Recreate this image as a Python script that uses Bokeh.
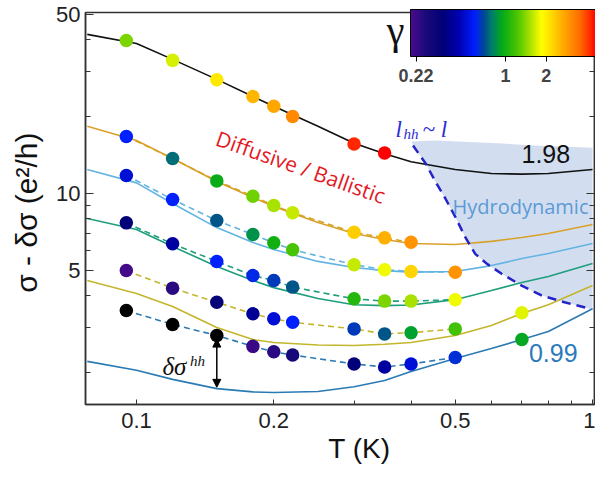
import numpy as np
from bokeh.plotting import figure
from bokeh.models import (LogColorMapper, ColorBar, FixedTicker, Label, Arrow,
                          NormalHead, LogAxis, ColumnDataSource)
from bokeh.embed import file_html
from bokeh.resources import INLINE

# ---------------- data ----------------
T_grid = [0.078, 0.1, 0.12, 0.15, 0.18, 0.2, 0.25, 0.3, 0.35, 0.4, 0.5, 0.6, 0.7, 0.8, 1.0]
black_line = [41.8, 38.5, 33.4, 27.9, 23.9, 21.9, 18.3, 15.7, 14.3, 13.3, 12.4, 11.97, 11.9, 11.97, 12.4]
orange_line = [18.3, 16.1, 13.7, 11.14, 9.65, 8.90, 7.70, 6.98, 6.61, 6.38, 6.32, 6.50, 6.73, 6.98, 7.57]
lblue_line = [12.41, 11.0, 9.14, 7.36, 6.44, 6.04, 5.43, 5.14, 5.00, 4.93, 4.96, 5.23, 5.57, 5.83, 6.38]
green_line = [7.99, 7.23, 6.21, 5.19, 4.57, 4.29, 3.89, 3.68, 3.65, 3.67, 3.85, 4.18, 4.49, 4.74, 5.33]
olive_line = [4.57, 4.07, 3.62, 3.00, 2.69, 2.62, 2.56, 2.55, 2.58, 2.62, 2.79, 3.05, 3.40, 3.68, 4.37]
blue_line = [2.21, 2.04, 1.88, 1.73, 1.68, 1.67, 1.685, 1.76, 1.86, 2.02, 2.27, 2.48, 2.69, 2.89, 3.55]

black_T = [0.095, 0.12, 0.15, 0.18, 0.2, 0.22, 0.3, 0.35]
black_s = [39.6, 33.1, 27.8, 23.9, 21.9, 20.0, 15.6, 14.4]
black_g = [1.38, 1.67, 2.03, 2.54, 2.7, 3.08, 4.26, 4.7]

orange_T = [0.095, 0.12, 0.15, 0.18, 0.2, 0.22, 0.3, 0.35, 0.4]
orange_s = [16.7, 13.7, 11.2, 9.76, 8.98, 8.41, 7.06, 6.71, 6.45]
orange_g = [0.6, 0.77, 0.97, 1.34, 1.52, 1.62, 2.31, 2.62, 2.94]

lblue_T = [0.095, 0.12, 0.15, 0.18, 0.2, 0.22, 0.3, 0.35, 0.4, 0.5]
lblue_s = [11.76, 9.48, 7.84, 6.92, 6.42, 6.03, 5.27, 5.04, 4.96, 4.93]
lblue_g = [0.52, 0.6, 0.72, 0.85, 1.0, 1.21, 1.62, 1.78, 2.25, 2.94]

green_T = [0.095, 0.12, 0.15, 0.18, 0.2, 0.22, 0.3, 0.35, 0.4, 0.5]
green_s = [7.68, 6.36, 5.43, 4.78, 4.57, 4.31, 3.88, 3.80, 3.80, 3.85]
green_g = [0.35, 0.42, 0.6, 0.62, 0.66, 0.72, 1.07, 1.38, 1.52, 1.78]

olive_T = [0.095, 0.12, 0.15, 0.18, 0.2, 0.22, 0.3, 0.35, 0.4, 0.5, 0.7]
olive_s = [5.00, 4.27, 3.76, 3.39, 3.24, 3.14, 2.96, 2.83, 2.86, 2.96, 3.42]
olive_g = [0.21, 0.24, 0.33, 0.4, 0.52, 0.6, 0.66, 0.72, 0.91, 1.18, 1.72]

blue_T = [0.095, 0.12, 0.15, 0.18, 0.2, 0.22, 0.3, 0.35, 0.4, 0.5, 0.7]
blue_s = [3.49, 3.08, 2.79, 2.53, 2.41, 2.34, 2.16, 2.10, 2.16, 2.29, 2.69]
blue_g = [0.15, 0.15, 0.15, 0.22, 0.24, 0.28, 0.35, 0.42, 0.52, 0.64, 0.94]

# number of dots joined by the dashed line for each curve
dash_n = {"orange": 9, "lblue": 10, "green": 10, "olive": 10, "blue": 10}

# l_hh ~ l boundary
bnd_T = [0.404, 0.431, 0.453, 0.476, 0.5005, 0.526, 0.553, 0.587, 0.632, 0.699, 0.773, 0.868, 0.968]
bnd_s = [15.4, 13.06, 11.07, 9.54, 8.08, 6.75, 5.81, 5.31, 4.86, 4.37, 4.00, 3.76, 3.58]
# top edge of hydrodynamic region
top_T = [0.4015, 0.453, 0.634, 0.747, 1.0, 1.0]
top_s = [15.96, 16.1, 15.67, 15.4, 15.1, 3.5]

x_ticks = [0.1, 0.2, 0.5, 1]
x_minor = [0.3, 0.4, 0.6, 0.7, 0.8, 0.9]
x_labels = ["0.1", "0.2", "0.5", "1"]
y_ticks = [5, 10, 50]
y_minor = [2, 3, 4, 6, 7, 8, 9, 20, 30, 40]
y_labels = ["5", "10", "50"]
cb_ticks = [0.22, 1, 2]
cb_labels = ["0.22", "1", "2"]
cb_low, cb_high = 0.2, 4.61

# ---------------- style ----------------
C = {"black": "#111111", "orange": "#d8a22a", "lblue": "#62b4e2",
     "green": "#1f9e7c", "olive": "#c4b62c", "blue": "#2a7bb4"}

stop_g = [0.2, 0.26, 0.35, 0.45, 0.6, 0.7, 0.8, 0.9, 1.0, 1.3, 1.6, 1.85, 2.3, 2.8, 3.5, 4.2, 4.61]
stop_c = ["#4a0a8c", "#1a0a7a", "#000078", "#0000b0", "#0020ff", "#004a90", "#00806a", "#00a030",
          "#10b010", "#60cc00", "#c0e800", "#ffff00", "#ffd000", "#ffa000", "#ff7000", "#ff3000", "#ff0000"]
rgb = np.array([[int(c[i:i + 2], 16) for i in (1, 3, 5)] for c in stop_c], float)
lg = np.log10(stop_g)
palette = ["#%02x%02x%02x" % tuple(int(round(np.interp(t, lg, rgb[:, k]))) for k in range(3))
           for t in np.linspace(np.log10(cb_low), np.log10(cb_high), 256)]
mapper = LogColorMapper(palette=palette, low=cb_low, high=cb_high, low_color="black", high_color="#ff0000")

p = figure(width=595, height=470, x_axis_type="log", y_axis_type="log",
           x_range=(0.0773, 1.01), y_range=(1.5, 50.9),
           output_backend="svg", toolbar_location=None,
           min_border_left=85, min_border_right=1, min_border_top=12, min_border_bottom=66)
p.grid.visible = False
p.outline_line_color = "#333333"
p.outline_line_width = 1.5

xt = FixedTicker(ticks=x_ticks, minor_ticks=x_minor)
yt = FixedTicker(ticks=y_ticks, minor_ticks=y_minor)
p.xaxis.ticker = xt
p.yaxis.ticker = yt
p.xaxis.major_label_overrides = dict(zip(x_ticks, x_labels))
p.yaxis.major_label_overrides = dict(zip(y_ticks, y_labels))
for ax in (p.xaxis, p.yaxis):
    ax.axis_line_color = "#333333"
    ax.axis_line_width = 1.5
    ax.major_tick_line_color = "#333333"
    ax.minor_tick_line_color = "#333333"
    ax.major_tick_out = 0
    ax.minor_tick_out = 0
    ax.major_label_text_font = "Liberation Sans"
    ax.major_label_text_color = "#222222"
    ax.axis_label_text_font = "Liberation Sans"
    ax.axis_label_text_font_style = "normal"
    ax.axis_label_text_color = "#111111"
p.xaxis.major_tick_in = 5
p.xaxis.minor_tick_in = 4
p.yaxis.major_tick_in = 8
p.yaxis.minor_tick_in = 5
p.xaxis.major_label_text_font_size = "22px"
p.yaxis.major_label_text_font_size = "22px"
p.xaxis.major_label_standoff = 8
p.yaxis.major_label_standoff = 5
p.yaxis.axis_label = "σ - δσ  (e²/h)"
p.yaxis.axis_label_text_font_size = "30px"
p.yaxis.axis_label_standoff = 10
p.xaxis.axis_label = "\u00a0\u00a0\u00a0\u00a0\u00a0T (K)"
p.xaxis.axis_label_text_font_size = "28px"
p.xaxis.axis_label_standoff = 2

ra = LogAxis(ticker=yt, major_label_overrides={t: "" for t in y_ticks},
             major_label_text_font_size="1px", major_label_standoff=0,
             major_tick_in=8, major_tick_out=0, minor_tick_in=5, minor_tick_out=0,
             axis_line_color="#333333", axis_line_width=1.5,
             major_tick_line_color="#333333", minor_tick_line_color="#333333")
p.add_layout(ra, "right")

# hydrodynamic region
p.patch(top_T + bnd_T[::-1], top_s + bnd_s[::-1], fill_color="#d3ddf0", line_color=None)

# solid curves
for name, vals in [("black", black_line), ("orange", orange_line), ("lblue", lblue_line),
                   ("green", green_line), ("olive", olive_line), ("blue", blue_line)]:
    p.line(T_grid, vals, line_color=C[name], line_width=1.6)

dots = {"black": (black_T, black_s, black_g), "orange": (orange_T, orange_s, orange_g),
        "lblue": (lblue_T, lblue_s, lblue_g), "green": (green_T, green_s, green_g),
        "olive": (olive_T, olive_s, olive_g), "blue": (blue_T, blue_s, blue_g)}

for name, n in dash_n.items():
    Tn, sn, _ = dots[name]
    p.line(Tn[:n], sn[:n], line_color=C[name], line_width=1.6, line_dash="6 4")

p.line(bnd_T, bnd_s, line_color="#2323c8", line_width=2.5, line_dash="9 6")

p.add_layout(Arrow(start=NormalHead(size=8, fill_color="black", line_color="black"),
                   end=NormalHead(size=8, fill_color="black", line_color="black"),
                   x_start=0.15, y_start=2.70, x_end=0.15, y_end=1.75,
                   line_color="black", line_width=1.5, level="underlay"))

for name, (Tn, sn, gn) in dots.items():
    src = ColumnDataSource(dict(T=Tn, s=sn, g=gn))
    p.scatter("T", "s", source=src, size=13.5, line_color=None,
              fill_color={"field": "g", "transform": mapper})

# colour bar
cb = ColorBar(color_mapper=mapper, orientation="horizontal", width=185, height=47,
              location=(325, 320), padding=0, margin=0,
              ticker=FixedTicker(ticks=cb_ticks), major_label_overrides=dict(zip(cb_ticks, cb_labels)),
              major_label_text_font="Liberation Sans", major_label_text_font_style="bold",
              major_label_text_font_size="18px", major_tick_in=0, major_tick_out=5,
              major_tick_line_color="black", bar_line_color="black", bar_line_width=1,
              border_line_color=None, background_fill_alpha=0, label_standoff=7)
p.add_layout(cb, "center")

labels = [
    dict(x=0.2292, y=12.69, text="Diffusive / Ballistic", text_color="#e3191f", text_font="Open Sans",
         text_font_size="21px", angle=-0.34, text_align="center", text_baseline="middle"),
    dict(x=0.695, y=8.90, text="Hydrodynamic", text_color="#5b9bd5", text_font="Open Sans",
         text_font_size="20px", text_align="center", text_baseline="middle"),
    dict(x=0.79, y=14.3, text="1.98", text_color="#111111", text_font="Liberation Sans",
         text_font_size="25px", text_align="center", text_baseline="middle"),
    dict(x=0.82, y=2.39, text="0.99", text_color="#2b7bba", text_font="Liberation Sans",
         text_font_size="25px", text_align="center", text_baseline="middle"),
    dict(x=0.3698, y=17.77, text="l", text_color="#2b2bd6", text_font="Liberation Serif",
         text_font_style="italic", text_font_size="23px", text_align="left", text_baseline="alphabetic"),
    dict(x=0.3851, y=17.14, text="hh", text_color="#2b2bd6", text_font="Liberation Serif",
         text_font_style="italic", text_font_size="15px", text_align="left", text_baseline="alphabetic"),
    dict(x=0.4238, y=17.77, text="~ l", text_color="#2b2bd6", text_font="Liberation Serif",
         text_font_style="italic", text_font_size="23px", text_align="left", text_baseline="alphabetic"),
    dict(x=0.1140, y=2.108, text="δσ", text_color="#111111", text_font="Liberation Serif",
         text_font_style="italic", text_font_size="25px", text_align="left", text_baseline="alphabetic"),
    dict(x=0.1310, y=2.226, text="hh", text_color="#111111", text_font="Liberation Serif",
         text_font_style="italic", text_font_size="15px", text_align="left", text_baseline="alphabetic"),
    dict(x=0.3698, y=43.3, text="γ", text_color="#111111", text_font="Liberation Serif",
         text_font_size="40px", text_align="center", text_baseline="alphabetic"),
]
for kw in labels:
    p.add_layout(Label(**kw))

open("out.html", "w").write(file_html(p, INLINE))
